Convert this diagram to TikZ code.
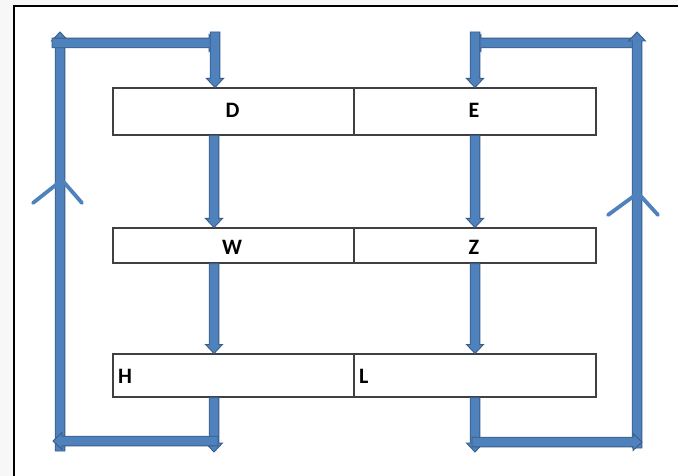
\documentclass[tikz,border=0pt]{standalone}
\usepackage{fontspec}
\setmainfont{Carlito}
\usetikzlibrary{calc}

\definecolor{arrowfill}{HTML}{4F81BD}
\definecolor{arrowline}{HTML}{385D8A}
\definecolor{boxline}{HTML}{404040}
\definecolor{margin}{HTML}{F7F7F7}

\tikzset{
  cell/.style={draw=boxline, line width=1.1pt, fill=white, inner sep=0pt},
  label/.style={inner sep=0pt, font=\fontsize{22}{24}\selectfont\bfseries},
  blockarrow/.style={fill=arrowfill, draw=arrowline, line width=0.9pt, line join=miter},
  chevron/.style={draw=arrowfill, line width=3.8pt, line cap=round, line join=miter}
}

% block arrow from #1 to #2 (shaft half width 4.8pt, head half width 8.5pt, head length 9pt)
\newcommand\blockarrow[2]{%
  \path[blockarrow] let \p1=(#1), \p2=(#2),
      \n1={atan2(\y2-\y1,\x2-\x1)}, \n2={veclen(\x2-\x1,\y2-\y1)} in
    [shift={(\p1)}, rotate=\n1]
    (0pt,-4.8pt) -- (\n2-9pt,-4.8pt) -- (\n2-9pt,-8.5pt) -- (\n2,0pt)
    -- (\n2-9pt,8.5pt) -- (\n2-9pt,4.8pt) -- (0pt,4.8pt) -- cycle;}

\begin{document}
\begin{tikzpicture}[x=1pt,y=-1pt]
  \useasboundingbox (0,0) rectangle (678,476);
  % page background and frame
  \fill[margin] (0,0) rectangle (678,476);
  \fill[white] (14,6) rectangle (678,476);
  \draw[black, line width=1.4pt] (14,476) -- (14,6) -- (678,6);

  % table cells
  \node[cell, minimum width=241pt, minimum height=47pt] (D) at (233.5,111.5) {};
  \node[cell, minimum width=242pt, minimum height=47pt] (E) at (475,111.5) {};
  \node[cell, minimum width=241pt, minimum height=35pt] (W) at (233.5,245.5) {};
  \node[cell, minimum width=242pt, minimum height=35pt] (Z) at (475,245.5) {};
  \node[cell, minimum width=241pt, minimum height=43pt] (H) at (233.5,375.5) {};
  \node[cell, minimum width=242pt, minimum height=43pt] (L) at (475,375.5) {};

  % cell labels
  \node[label] (Dt) at (232.5,110) {D};
  \node[label] (Et) at (474,110) {E};
  \node[label] (Wt) at (232,247) {W};
  \node[label] (Zt) at (474,247) {Z};
  \node[label, anchor=west] (Ht) at (118,376) {H};
  \node[label, anchor=west] (Lt) at (359,376) {L};

  % loop coordinates
  \coordinate (lb) at (60,451);
  \coordinate (lt) at (60,32);
  \coordinate (lh1) at (52,43);
  \coordinate (lh2) at (218,43);
  \coordinate (ld0) at (215,32);
  \coordinate (lout) at (214,452);
  \coordinate (lbr) at (218,441);
  \coordinate (lbl) at (53,441);
  \coordinate (rb) at (637,448);
  \coordinate (rt) at (637,32);
  \coordinate (rh1) at (637,43);
  \coordinate (rh2) at (472,43);
  \coordinate (rd0) at (475,32);
  \coordinate (rout) at (475,452);
  \coordinate (rbl) at (472,442);
  \coordinate (rbr) at (642,442);

  % left loop
  \blockarrow{lb}{lt}
  \blockarrow{lh1}{lh2}
  \blockarrow{ld0}{D.north -| ld0}
  \blockarrow{D.south -| lout}{W.north -| lout}
  \blockarrow{W.south -| lout}{H.north -| lout}
  \blockarrow{H.south -| lout}{lout}
  \blockarrow{lbr}{lbl}

  % right loop
  \blockarrow{rh1}{rh2}
  \blockarrow{rb}{rt}
  \blockarrow{rd0}{E.north -| rd0}
  \blockarrow{E.south -| rout}{Z.north -| rout}
  \blockarrow{Z.south -| rout}{L.north -| rout}
  \blockarrow{L.south -| rout}{rout}
  \blockarrow{rbl}{rbr}

  % direction marks on the loops
  \coordinate (cl1) at (33,203);
  \coordinate (cl2) at (62,180);
  \coordinate (cl3) at (82,203);
  \coordinate (cr1) at (608,215);
  \coordinate (cr2) at (638,193);
  \coordinate (cr3) at (658,215);
  \draw[chevron] (cl1) -- (cl2) -- (cl3);
  \draw[chevron] (cr1) -- (cr2) -- (cr3);
\end{tikzpicture}
\end{document}
